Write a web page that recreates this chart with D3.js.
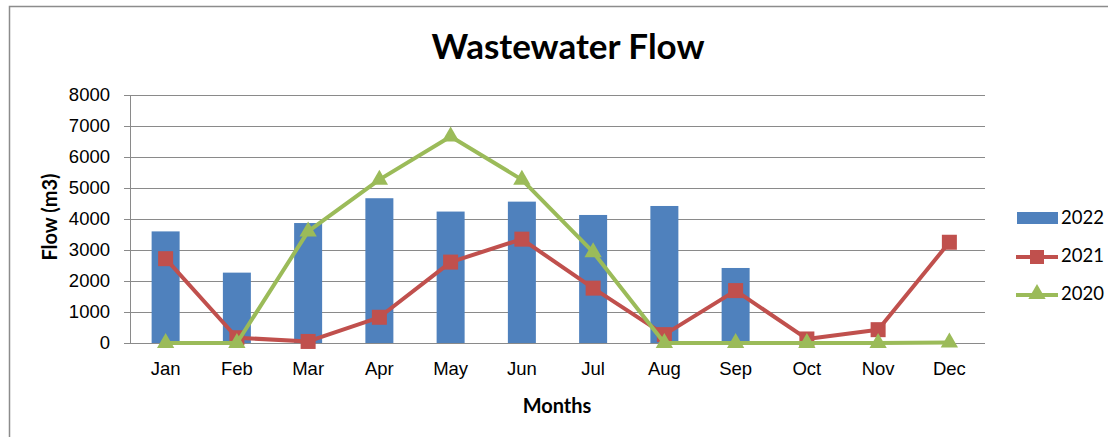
<!DOCTYPE html>
<html>
<head>
<meta charset="utf-8">
<script src="https://cdn.jsdelivr.net/npm/d3@7"></script>
<style>
  body { margin: 0; background: #fff; }
  svg { font-family: Lato, sans-serif; }
</style>
</head>
<body>
<div id="chart"></div>
<script>
// data
const months = ['Jan', 'Feb', 'Mar', 'Apr', 'May', 'Jun', 'Jul', 'Aug', 'Sep', 'Oct', 'Nov', 'Dec'];
const flow2022 = [3600, 2270, 3870, 4670, 4240, 4560, 4130, 4420, 2420, 0, 0, 0];
const flow2021 = [2720, 170, 50, 830, 2610, 3350, 1770, 270, 1690, 130, 430, 3250];
const flow2020 = [0, 0, 3600, 5270, 6660, 5270, 2930, 0, 0, 0, 0, 20];
const yTicks = [0, 1000, 2000, 3000, 4000, 5000, 6000, 7000, 8000];

const colors = { b: '#4F81BD', r: '#C0504D', g: '#9BBB59' };

let svgWidth = 1108;
let svgHeight = 437;
let margin = { top: 95, right: 123, bottom: 94, left: 130 };
let width = svgWidth - margin.left - margin.right;
let height = svgHeight - margin.top - margin.bottom;

let svg = d3.select('#chart').append('svg')
    .attr('width', svgWidth).attr('height', svgHeight);

// outer chart border
svg.append('rect')
    .attr('x', 9.5).attr('y', 6.5)
    .attr('width', svgWidth + 10).attr('height', svgHeight + 10)
    .attr('fill', 'none').attr('stroke', '#8c8c8c').attr('stroke-width', 1.5);

// title
svg.append('text')
    .attr('x', 568).attr('y', 59)
    .attr('text-anchor', 'middle')
    .attr('font-size', '35px').attr('font-weight', 'bold')
    .text('Wastewater Flow');

let g = svg.append('g').attr('transform', `translate(${margin.left}, ${margin.top})`);

let x = d3.scaleBand().domain(months).range([0, width]);
let y = d3.scaleLinear().domain([0, 8000]).range([height, 0]);

// gridlines
g.selectAll('.grid')
    .data(yTicks)
    .enter()
    .append('line')
    .attr('x1', -6).attr('x2', width)
    .attr('y1', d => Math.round(y(d)) + 0.5).attr('y2', d => Math.round(y(d)) + 0.5)
    .attr('stroke', '#8a8a8a').attr('stroke-width', 1);

// y axis
let leftAxis = d3.axisLeft(y).tickValues(yTicks).tickFormat(d3.format('d')).tickSize(0).tickPadding(20);
let yAxisG = g.append('g').call(leftAxis);
yAxisG.select('.domain').remove();
yAxisG.selectAll('text').attr('font-size', '18.5px').attr('fill', '#000').attr('font-family', null);

g.append('line')
    .attr('x1', 0.5).attr('x2', 0.5).attr('y1', 0).attr('y2', height)
    .attr('stroke', '#8a8a8a');

// x axis
let bottomAxis = d3.axisBottom(x).tickSize(0).tickPadding(19);
let xAxisG = g.append('g').attr('transform', `translate(0, ${height})`).call(bottomAxis);
xAxisG.select('.domain').remove();
xAxisG.selectAll('text').attr('font-size', '18.5px').attr('fill', '#000').attr('font-family', null);

// bars 2022
let barW = 28;
g.selectAll('.bar')
    .data(flow2022)
    .enter()
    .append('rect')
    .attr('x', (d, i) => x(months[i]) + x.bandwidth() / 2 - barW / 2)
    .attr('y', d => y(d))
    .attr('width', barW)
    .attr('height', d => height - y(d))
    .attr('fill', colors.b);

let line = d3.line()
    .x((d, i) => x(months[i]) + x.bandwidth() / 2)
    .y(d => y(d));

// 2021 line + squares
g.append('path').datum(flow2021)
    .attr('d', line).attr('fill', 'none')
    .attr('stroke', colors.r).attr('stroke-width', 4).attr('stroke-linejoin', 'round');
g.selectAll('.sq')
    .data(flow2021)
    .enter()
    .append('rect')
    .attr('x', (d, i) => x(months[i]) + x.bandwidth() / 2 - 7.5)
    .attr('y', d => y(d) - 7.5)
    .attr('width', 15).attr('height', 15)
    .attr('fill', colors.r);

// 2020 line + triangles
let tri = d3.symbol().type(d3.symbolTriangle).size(130);
g.append('path').datum(flow2020)
    .attr('d', line).attr('fill', 'none')
    .attr('stroke', colors.g).attr('stroke-width', 4).attr('stroke-linejoin', 'round');
g.selectAll('.tri')
    .data(flow2020)
    .enter()
    .append('path')
    .attr('d', tri)
    .attr('transform', (d, i) => `translate(${x(months[i]) + x.bandwidth() / 2}, ${y(d)})`)
    .attr('fill', colors.g);

// axis titles
svg.append('text')
    .attr('transform', 'translate(57, 217) rotate(-90)')
    .attr('text-anchor', 'middle')
    .attr('font-size', '20px').attr('font-weight', 'bold')
    .text('Flow (m3)');

svg.append('text')
    .attr('x', 557).attr('y', 413)
    .attr('text-anchor', 'middle')
    .attr('font-size', '20px').attr('font-weight', 'bold')
    .text('Months');

// legend
let legend = svg.append('g');
legend.append('rect')
    .attr('x', 1017).attr('y', 212).attr('width', 41).attr('height', 12)
    .attr('fill', colors.b);
legend.append('line')
    .attr('x1', 1016).attr('x2', 1058).attr('y1', 257).attr('y2', 257)
    .attr('stroke', colors.r).attr('stroke-width', 4);
legend.append('rect')
    .attr('x', 1030).attr('y', 250).attr('width', 14).attr('height', 14)
    .attr('fill', colors.r);
legend.append('line')
    .attr('x1', 1016).attr('x2', 1058).attr('y1', 295).attr('y2', 295)
    .attr('stroke', colors.g).attr('stroke-width', 4);
legend.append('path')
    .attr('d', tri)
    .attr('transform', 'translate(1037, 294)')
    .attr('fill', colors.g);

let legendLabels = ['2022', '2021', '2020'];
legend.selectAll('.lt')
    .data(legendLabels)
    .enter()
    .append('text')
    .attr('x', 1061)
    .attr('y', (d, i) => 218 + i * 38)
    .attr('dy', '0.35em')
    .attr('font-size', '18.5px')
    .text(d => d);
</script>
</body>
</html>
